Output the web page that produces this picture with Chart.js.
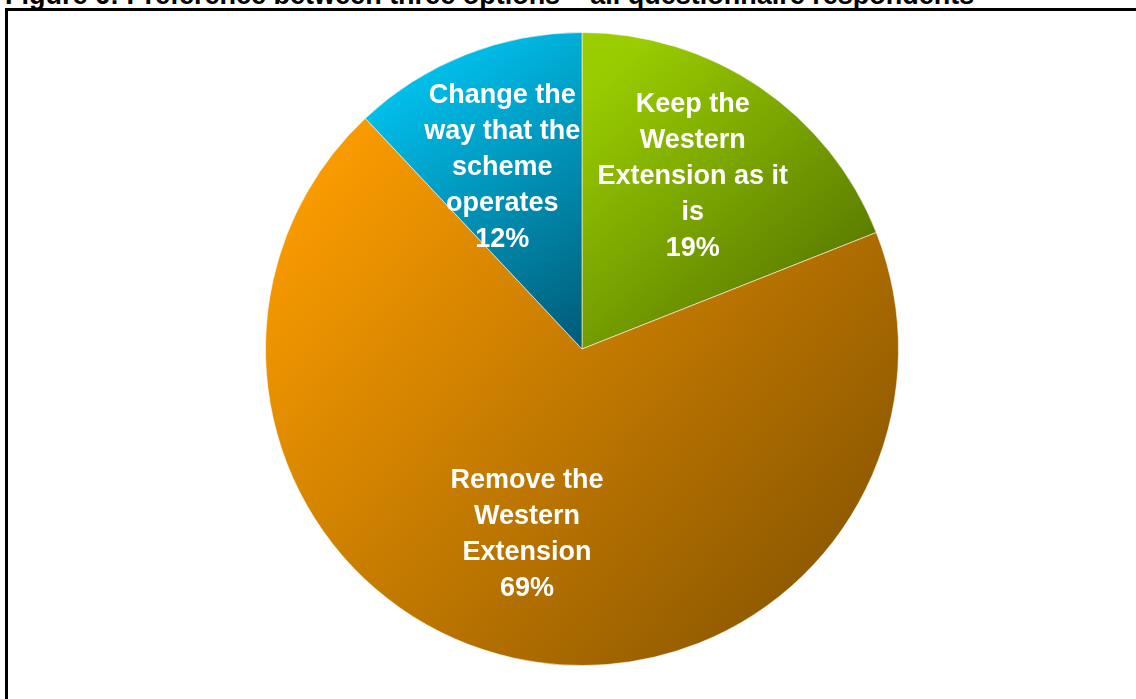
<!DOCTYPE html>
<html>
<head>
<meta charset="utf-8">
<script src="https://cdn.jsdelivr.net/npm/chart.js@4.4.1/dist/chart.umd.min.js"></script>
<style>
  html, body { margin: 0; padding: 0; background: #fff; overflow: hidden; }
  #title {
    position: absolute; left: 5px; top: -18px;
    font: bold 27px "Liberation Sans", Arial, sans-serif; line-height: 27px;
    white-space: nowrap; color: #000;
  }
  #frame {
    position: absolute; left: 5px; top: 8px; width: 1200px; height: 800px;
    border-left: 3px solid #000; border-top: 3px solid #000;
  }
  #chart { position: absolute; left: 0; top: 0; }
</style>
</head>
<body>
<div id="title">Figure 6: Preference between three options – all questionnaire respondents</div>
<div id="frame"></div>
<canvas id="chart" width="1136" height="699"></canvas>
<script>
const categories = ['Keep the Western Extension as it is', 'Remove the Western Extension', 'Change the way that the scheme operates']
const shares = [19, 69, 12]
const labelLines = [
  ['Keep the', 'Western', 'Extension as it', 'is'],
  ['Remove the', 'Western', 'Extension'],
  ['Change the', 'way that the', 'scheme', 'operates']
]
const lightColours = ['#9acd00', '#f89a00', '#00c8f5']
const darkColours = ['#4b6800', '#7c4e00', '#005a76']

// label placement: fraction of radius, and small angle nudge (degrees)
const labelRadius = [0.648, 0.612, 0.627]
const labelNudge = [-1.5, 3.9, -2.1]

// each slice gets its own diagonal gradient over its bounding box
const sliceGradients = {
  id: 'sliceGradients',
  beforeDatasetsDraw(chart) {
    const ctx = chart.ctx
    chart.getDatasetMeta(0).data.forEach((el, i) => {
      let minX = el.x, maxX = el.x, minY = el.y, maxY = el.y
      for (let s = 0; s <= 64; s++) {
        const a = el.startAngle + (el.endAngle - el.startAngle) * s / 64
        const px = el.x + Math.cos(a) * el.outerRadius
        const py = el.y + Math.sin(a) * el.outerRadius
        minX = Math.min(minX, px); maxX = Math.max(maxX, px)
        minY = Math.min(minY, py); maxY = Math.max(maxY, py)
      }
      const g = ctx.createLinearGradient(minX, minY, maxX, maxY)
      g.addColorStop(0, lightColours[i])
      g.addColorStop(0.1, lightColours[i])
      g.addColorStop(1, darkColours[i])
      el.options = Object.assign({}, el.options, { backgroundColor: g })
    })
  }
}

const sliceLabels = {
  id: 'sliceLabels',
  afterDatasetsDraw(chart) {
    const ctx = chart.ctx
    ctx.save()
    ctx.fillStyle = '#fff'
    ctx.font = 'bold 27px "Liberation Sans", Arial, sans-serif'
    ctx.textAlign = 'center'
    ctx.textBaseline = 'middle'
    chart.getDatasetMeta(0).data.forEach((el, i) => {
      const mid = (el.startAngle + el.endAngle) / 2 + labelNudge[i] * Math.PI / 180
      const cx = el.x + Math.cos(mid) * el.outerRadius * labelRadius[i]
      const cy = el.y + Math.sin(mid) * el.outerRadius * labelRadius[i]
      const lines = labelLines[i].concat([shares[i] + '%'])
      lines.forEach((t, k) => {
        ctx.fillText(t, cx, cy + (k - (lines.length - 1) / 2) * 36)
      })
    })
    ctx.restore()
  }
}

new Chart(document.getElementById('chart'), {
  type: 'pie',
  data: {
    labels: categories,
    datasets: [{
      data: shares,
      backgroundColor: lightColours,
      borderColor: 'rgba(255,255,255,0.55)',
      borderWidth: 1
    }]
  },
  options: {
    responsive: false,
    animation: false,
    layout: { padding: { left: 265, right: 237, top: 32, bottom: 33 } },
    plugins: {
      legend: { display: false },
      tooltip: { enabled: false }
    }
  },
  plugins: [sliceGradients, sliceLabels]
})
</script>
</body>
</html>
